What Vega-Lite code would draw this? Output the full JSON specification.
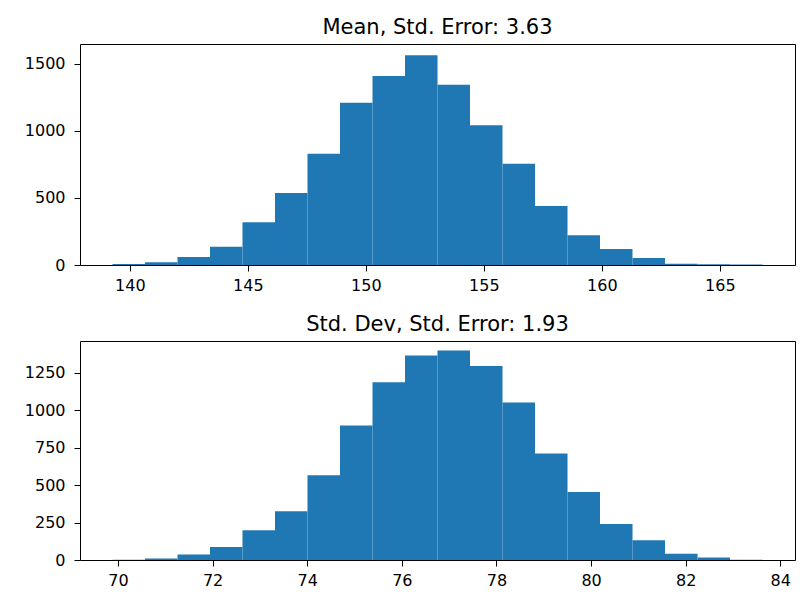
{
  "$schema": "https://vega.github.io/schema/vega-lite/v6.json",
  "background": "white",
  "padding": {"left": 23, "right": 5, "top": 16, "bottom": 5},
  "spacing": 19,
  "config": {
    "font": "DejaVu Sans",
    "view": {"stroke": "#000000", "strokeWidth": 1},
    "axis": {
      "grid": false,
      "domain": false,
      "ticks": true,
      "tickColor": "#000000",
      "tickSize": 6,
      "tickWidth": 1,
      "labelColor": "#000000",
      "labelFont": "DejaVu Sans",
      "labelFontSize": 16,
      "labelPadding": 6,
      "labelFlush": false,
      "labelOverlap": false,
      "format": "d"
    },
    "axisY": {"labelPadding": 9},
    "title": {"fontSize": 21, "fontWeight": "normal", "color": "#000000", "font": "DejaVu Sans", "offset": 6}
  },
  "datasets": {
    "mean": [
      {"x0": 139.263, "x1": 140.640, "count": 8},
      {"x0": 140.640, "x1": 142.017, "count": 20},
      {"x0": 142.017, "x1": 143.395, "count": 60},
      {"x0": 143.395, "x1": 144.772, "count": 136},
      {"x0": 144.772, "x1": 146.149, "count": 318},
      {"x0": 146.149, "x1": 147.526, "count": 536},
      {"x0": 147.526, "x1": 148.903, "count": 829},
      {"x0": 148.903, "x1": 150.281, "count": 1209},
      {"x0": 150.281, "x1": 151.658, "count": 1408},
      {"x0": 151.658, "x1": 153.035, "count": 1562},
      {"x0": 153.035, "x1": 154.412, "count": 1343},
      {"x0": 154.412, "x1": 155.789, "count": 1041},
      {"x0": 155.789, "x1": 157.167, "count": 755},
      {"x0": 157.167, "x1": 158.544, "count": 440},
      {"x0": 158.544, "x1": 159.921, "count": 221},
      {"x0": 159.921, "x1": 161.298, "count": 119},
      {"x0": 161.298, "x1": 162.675, "count": 52},
      {"x0": 162.675, "x1": 164.053, "count": 10},
      {"x0": 164.053, "x1": 165.430, "count": 6},
      {"x0": 165.430, "x1": 166.807, "count": 4}
    ],
    "sd": [
      {"x0": 69.884, "x1": 70.571, "count": 1},
      {"x0": 70.571, "x1": 71.258, "count": 10},
      {"x0": 71.258, "x1": 71.945, "count": 36},
      {"x0": 71.945, "x1": 72.632, "count": 87},
      {"x0": 72.632, "x1": 73.319, "count": 198},
      {"x0": 73.319, "x1": 74.006, "count": 325},
      {"x0": 74.006, "x1": 74.693, "count": 565},
      {"x0": 74.693, "x1": 75.380, "count": 897},
      {"x0": 75.380, "x1": 76.067, "count": 1186},
      {"x0": 76.067, "x1": 76.754, "count": 1364},
      {"x0": 76.754, "x1": 77.441, "count": 1397},
      {"x0": 77.441, "x1": 78.128, "count": 1295},
      {"x0": 78.128, "x1": 78.815, "count": 1050},
      {"x0": 78.815, "x1": 79.502, "count": 710},
      {"x0": 79.502, "x1": 80.189, "count": 454},
      {"x0": 80.189, "x1": 80.876, "count": 240},
      {"x0": 80.876, "x1": 81.563, "count": 131},
      {"x0": 81.563, "x1": 82.250, "count": 42},
      {"x0": 82.250, "x1": 82.937, "count": 16},
      {"x0": 82.937, "x1": 83.624, "count": 1}
    ]
  },
  "vconcat": [
    {
      "width": 715,
      "height": 221,
      "title": "Mean, Std. Error: 3.63",
      "data": {"name": "mean"},
      "mark": {"type": "rect", "color": "#1f77b4"},
      "encoding": {
        "x": {"field": "x0", "type": "quantitative", "title": null,
              "scale": {"domain": [137.886, 168.184], "nice": false, "zero": false},
              "axis": {"values": [140, 145, 150, 155, 160, 165]}},
        "x2": {"field": "x1"},
        "y": {"field": "count", "type": "quantitative", "title": null,
              "scale": {"domain": [0, 1646], "nice": false},
              "axis": {"values": [0, 500, 1000, 1500]}},
        "y2": {"datum": 0}
      }
    },
    {
      "width": 715,
      "height": 219,
      "title": "Std. Dev, Std. Error: 1.93",
      "data": {"name": "sd"},
      "mark": {"type": "rect", "color": "#1f77b4"},
      "encoding": {
        "x": {"field": "x0", "type": "quantitative", "title": null,
              "scale": {"domain": [69.197, 84.311], "nice": false, "zero": false},
              "axis": {"values": [70, 72, 74, 76, 78, 80, 82, 84]}},
        "x2": {"field": "x1"},
        "y": {"field": "count", "type": "quantitative", "title": null,
              "scale": {"domain": [0, 1461], "nice": false},
              "axis": {"values": [0, 250, 500, 750, 1000, 1250]}},
        "y2": {"datum": 0}
      }
    }
  ]
}
